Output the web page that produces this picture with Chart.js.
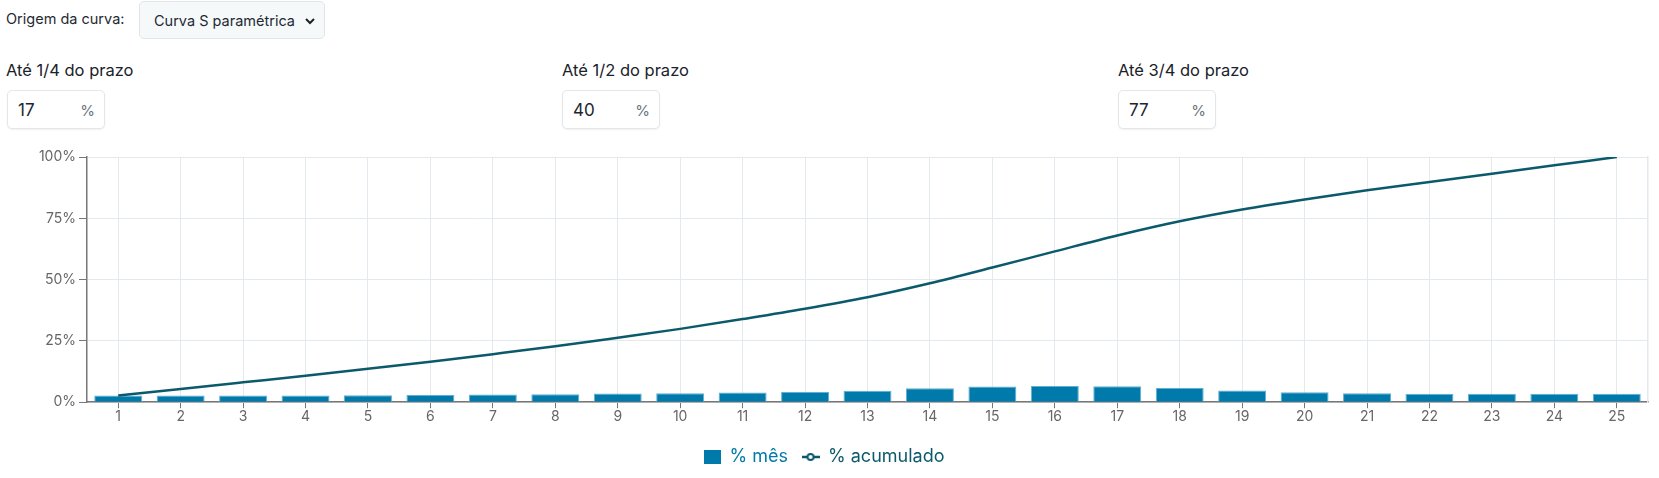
<!DOCTYPE html>
<html>
<head>
<meta charset="utf-8">
<script src="https://cdn.jsdelivr.net/npm/chart.js@4/dist/chart.umd.min.js"></script>
<style>
    body { margin: 0; background: #fff; font-family: Inter, "Noto Sans", sans-serif; color: #1f2a33; }
    #page { position: relative; width: 1659px; height: 478px; overflow: hidden; }
    .lbl { position: absolute; font-size: 14.5px; white-space: nowrap; }
    .tit { font-size: 16.5px; font-weight: 400; top: 60px; color: #1a222b; }
    .sel { position: absolute; box-sizing: border-box; border: 1px solid #dfe5e8; border-radius: 5px; background: #f5f9fa; font-size: 14.5px; }
    .sel span { position: absolute; left: 14px; top: 10px; }
    .sel svg { position: absolute; right: 8px; top: 14px; }
    .inp { position: absolute; box-sizing: border-box; width: 98px; height: 39px; top: 90px; border: 1px solid #e3e7ea; border-radius: 5px; background: #fff; box-shadow: 0 1px 2px rgba(0,0,0,0.06); }
    .inp .v { position: absolute; left: 10px; top: 9px; font-size: 17px; color: #1d2630; }
    .inp .p { position: absolute; right: 9px; top: 10px; font-size: 15px; color: #6b747b; }
    #chartBox { position: absolute; left: 0; top: 140px; width: 1659px; height: 338px; }
</style>
</head>
<body>
<div id="page">
    <span class="lbl" style="left:6px; top:10px;">Origem da curva:</span>
    <div class="sel" style="left:139px; top:1px; width:186px; height:38px;">
        <span>Curva S paramétrica</span>
        <svg width="12" height="10" viewBox="0 0 12 10"><path d="M2 3 L6 7 L10 3" fill="none" stroke="#222" stroke-width="2"/></svg>
    </div>

    <span class="lbl tit" style="left:6px;">Até 1/4 do prazo</span>
    <div class="inp" style="left:7px;"><span class="v">17</span><span class="p">%</span></div>

    <span class="lbl tit" style="left:562px;">Até 1/2 do prazo</span>
    <div class="inp" style="left:562px;"><span class="v">40</span><span class="p">%</span></div>

    <span class="lbl tit" style="left:1118px;">Até 3/4 do prazo</span>
    <div class="inp" style="left:1118px;"><span class="v">77</span><span class="p">%</span></div>

    <div id="chartBox"><canvas id="curvaS"></canvas></div>
</div>
<script>
    //dados
    var meses = ["1","2","3","4","5","6","7","8","9","10","11","12","13","14","15","16","17","18","19","20","21","22","23","24","25"];
    var percMes = [2.7,2.7,2.7,2.7,2.8,2.9,3.1,3.2,3.5,3.6,4.0,4.2,4.7,5.7,6.4,6.6,6.5,5.8,4.8,4.1,3.7,3.4,3.4,3.4,3.4];
    var percAcumulado = [2.7,5.4,8.1,10.8,13.6,16.5,19.6,22.8,26.3,29.9,33.9,38.1,42.8,48.5,54.9,61.5,68.0,73.8,78.6,82.7,86.4,89.8,93.2,96.6,100];
    var ticksY = [0,25,50,75,100];

    var corBarra = "#007aab";
    var corLinha = "#0b5a6b";

    /**
     * icones da legenda
     */
    function iconeBarra() {
        var c = document.createElement("canvas");
        c.width = 17; c.height = 14;
        var g = c.getContext("2d");
        g.fillStyle = corBarra;
        g.fillRect(0, 0, 17, 14);
        return c;
    }

    function iconeLinha() {
        var c = document.createElement("canvas");
        c.width = 18; c.height = 10;
        var g = c.getContext("2d");
        g.strokeStyle = corLinha;
        g.lineWidth = 2.5;
        g.beginPath(); g.moveTo(0, 5); g.lineTo(18, 5); g.stroke();
        g.fillStyle = "#fff";
        g.lineWidth = 2;
        g.beginPath(); g.arc(9, 5, 3, 0, Math.PI * 2); g.fill(); g.stroke();
        return c;
    }

    var ctx = document.getElementById("curvaS").getContext("2d");

    var chart = new Chart(ctx, {
        type: "bar",
        data: {
            labels: meses,
            datasets: [{
                type: "line",
                label: "% acumulado",
                data: percAcumulado,
                borderColor: corLinha,
                backgroundColor: corLinha,
                borderWidth: 2.5,
                pointRadius: 0,
                cubicInterpolationMode: "monotone",
                order: 0
            }, {
                type: "bar",
                label: "% mês",
                data: percMes,
                backgroundColor: corBarra,
                borderColor: "#5fb0d2",
                borderWidth: 1,
                barPercentage: 0.96,
                categoryPercentage: 0.8,
                order: 1
            }]
        },
        options: {
            responsive: true,
            maintainAspectRatio: false,
            animation: false,
            layout: { padding: { left: 0, right: 11, top: 17, bottom: 2 } },
            scales: {
                x: {
                    offset: true,
                    //titulo vazio so para dar espaco entre os numeros e a legenda
                    title: { display: true, text: " ", font: { size: 7.5 }, padding: 0 },
                    grid: { offset: false, color: "#e4e9ed", tickColor: "#777", tickLength: 6 },
                    border: { color: "#777", width: 1.5 },
                    ticks: { color: "#666", font: { family: "Inter", size: 14 }, padding: 0 }
                },
                y: {
                    min: 0,
                    max: 100,
                    afterBuildTicks: function (axis) {
                        axis.ticks = ticksY.map(function (v) { return { value: v }; });
                    },
                    afterFit: function (axis) { axis.width = 87; },
                    grid: { color: "#e4e9ed", tickColor: "#777", tickLength: 8 },
                    border: { color: "#777", width: 1.5 },
                    ticks: {
                        color: "#666",
                        font: { family: "Inter", size: 14 },
                        padding: 3,
                        callback: function (v) { return v + "%"; }
                    }
                },
                yRight: {
                    position: "right",
                    min: 0, max: 100,
                    afterFit: function (axis) { axis.width = 0; },
                    ticks: { display: false },
                    grid: { drawOnChartArea: false, drawTicks: false },
                    border: { color: "#e4e9ed", width: 1.5 }
                }
            },
            plugins: {
                legend: {
                    position: "bottom",
                    reverse: true,
                    labels: {
                        usePointStyle: true,
                        boxWidth: 17,
                        boxHeight: 14,
                        padding: 14,
                        font: { family: "Inter", size: 18 },
                        generateLabels: function (chart) {
                            var itens = Chart.defaults.plugins.legend.labels.generateLabels(chart);
                            itens.forEach(function (it) {
                                if (it.datasetIndex === 1) {
                                    it.pointStyle = iconeBarra();
                                    it.fontColor = corBarra;
                                } else {
                                    it.pointStyle = iconeLinha();
                                    it.fontColor = corLinha;
                                }
                            });
                            return itens;
                        }
                    }
                },
                tooltip: { enabled: false }
            }
        }
    });
</script>
</body>
</html>
